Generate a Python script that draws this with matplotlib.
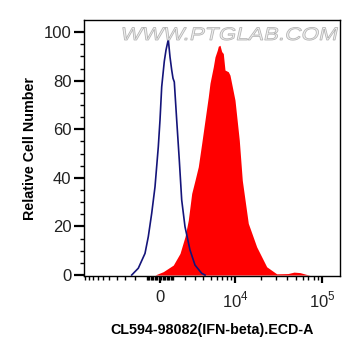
import numpy as np
import matplotlib
matplotlib.use('Agg')
import matplotlib.pyplot as plt
from matplotlib.textpath import TextPath
from matplotlib.patches import PathPatch
from matplotlib.font_manager import FontProperties
from matplotlib.transforms import Affine2D, IdentityTransform

plt.rcParams['font.family'] = 'Liberation Sans'
plt.rcParams['mathtext.fontset'] = 'custom'
plt.rcParams['mathtext.rm'] = 'Liberation Sans'

# histogram data on the biexponential display scale (channel 0..256)
iso_channel = [47.7, 54.3, 61, 64.3, 67.7, 71, 74.3, 76, 77.7, 80.3, 82, 84.3,
               86, 87.7, 89, 90.3, 92.7, 95.3, 97.7, 101, 106, 111, 117.7, 121]
iso_count = [0, 2.8, 8.9, 15.8, 25.4, 36.3, 52.8, 63.8, 77.5, 88, 92.6, 97,
             89.8, 84.4, 81, 79.5, 63.8, 47.3, 30.9, 19.9, 10.3, 4.1, 0.7, 0]

pos_channel = [71, 79.3, 89.3, 96, 101, 104.3, 107.7, 111, 114.3, 117.7, 121,
               124.3, 126, 129.3, 131, 133.3, 134.3, 136, 137.7, 139.3, 141,
               144.3, 146, 151, 155.3, 158.3, 164.3, 172.7, 182.7, 192.7,
               204, 210, 216, 222, 226]
pos_count = [0, 1.4, 4.1, 8.9, 15.8, 22.6, 33.6, 39, 44.6, 54.2, 63.8,
             73.4, 79, 85.7, 89.8, 92.6, 94.2, 94.6, 92, 91.2, 84.4,
             83.7, 82.3, 72, 55.5, 39, 21.3, 11.6, 3.4, 0.5,
             0.6, 1.2, 1.0, 0.3, 0]

# axis ticks (fluorescence values)
major_vals = [0, 1e4, 1e5]
major_labels = ['0', r'$10^4$', r'$10^5$']
minor_vals = (list(np.arange(-10000, -1000, 1000)) + list(np.arange(-1000, 0, 100))
              + list(np.arange(100, 1000, 100)) + list(np.arange(1000, 10000, 1000))
              + list(np.arange(20000, 100000, 10000)))


def biex(v):
    return 76 + 38.15 * np.arcsinh(np.asarray(v, dtype=float) / 2857.0)


fig = plt.figure(figsize=(3.61, 3.56), dpi=100)
ax = fig.add_axes([0.2327, 0.2247, 0.7091, 0.7191])

ax.fill_between(pos_channel, 0, pos_count, color='#ff0000', lw=0, zorder=2)
ax.plot(iso_channel, iso_count, color='#14147a', lw=1.2, zorder=3)

ax.set_xlim(0, 256)
ax.set_ylim(-0.4, 105)

ax.set_xticks(biex(major_vals))
ax.set_xticklabels(major_labels)
ax.set_xticks(biex(minor_vals), minor=True)
ax.set_yticks([0, 20, 40, 60, 80, 100])
ax.set_yticks(np.arange(0, 105, 5), minor=True)

ax.tick_params(axis='y', which='major', length=7, width=1.6, labelsize=12,
               labelcolor='#222222', pad=2)
ax.tick_params(axis='y', which='minor', length=3, width=1)
ax.tick_params(axis='x', which='major', length=5, width=1.6, labelsize=12,
               labelcolor='#222222', pad=5)
ax.tick_params(axis='x', which='minor', length=3, width=1)
for s in ax.spines.values():
    s.set_linewidth(1.0)

ax.set_ylabel('Relative Cell Number', fontsize=10.3, fontweight='bold', labelpad=5)
ax.set_xlabel('CL594-98082(IFN-beta).ECD-A', fontsize=10.3, fontweight='bold', labelpad=9)

# watermark
tp = TextPath((0, 0), 'WWW.PTGLAB.COM', size=10,
              prop=FontProperties(family='Liberation Sans'))
bb = tp.get_extents()
sx = 215.0 / bb.width
sy = 13.0 / 7.2
tr = (Affine2D().translate(-bb.x0, 0).skew_deg(10, 0).scale(sx, sy)
      .translate(120, 356 - 40) + IdentityTransform())
fig.patches.append(PathPatch(tp, transform=tr, facecolor='#efefef',
                             edgecolor='#b4b4b4', lw=0.6, zorder=5))

fig.savefig('out.png', dpi=100)
